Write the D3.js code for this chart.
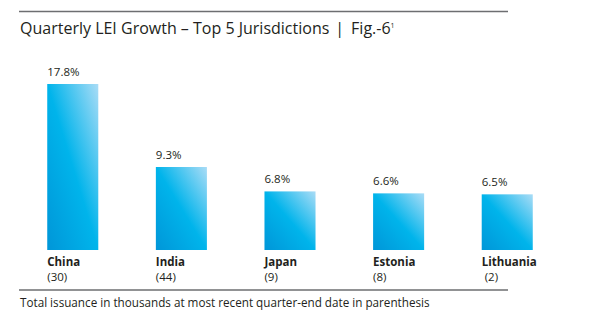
<!DOCTYPE html>
<html>
<head>
<meta charset="utf-8">
<title>Quarterly LEI Growth</title>
<script src="https://cdn.jsdelivr.net/npm/d3@7"></script>
<style>
  body { margin: 0; background: #fff; }
  text { font-family: "Open Sans", "Noto Sans", sans-serif; fill: #231f20; }
</style>
</head>
<body>
<svg id="chart" width="602" height="325"></svg>
<script>
// data
var jurisdictions = ["China", "India", "Japan", "Estonia", "Lithuania"];
var growth = [17.8, 9.3, 6.8, 6.6, 6.5];
var issuance = [30, 44, 9, 8, 2];

var svg = d3.select("#chart");

var defs = svg.append("defs");
var grad = defs.append("linearGradient")
  .attr("id", "barGrad")
  .attr("x1", 0).attr("y1", 1)
  .attr("x2", 1).attr("y2", 0);
grad.append("stop").attr("offset", "0%").attr("stop-color", "#0096d8");
grad.append("stop").attr("offset", "50%").attr("stop-color", "#00b4eb");
grad.append("stop").attr("offset", "100%").attr("stop-color", "#aadcf6");

var x = d3.scaleBand()
  .domain(jurisdictions)
  .range([19, 561])
  .paddingInner(0.53)
  .paddingOuter(0.26);

var y = d3.scaleLinear()
  .domain([0.8, 17.8])
  .range([250, 84]);

// rules
svg.append("line")
  .attr("x1", 19).attr("x2", 508)
  .attr("y1", 11.5).attr("y2", 11.5)
  .attr("stroke", "#6d6e71").attr("stroke-width", 1.5);
svg.append("line")
  .attr("x1", 19).attr("x2", 508)
  .attr("y1", 290).attr("y2", 290)
  .attr("stroke", "#6d6e71").attr("stroke-width", 1.5);

// title
var title = svg.append("text")
  .attr("x", 20).attr("y", 34)
  .style("font-size", "16px");
title.append("tspan").text("Quarterly LEI Growth \u2013 Top 5 Jurisdictions");
title.append("tspan").attr("dx", 6).text("|");
title.append("tspan").attr("dx", 7).text("Fig.-6");
title.append("tspan").attr("dy", -6).style("font-size", "7px").text("1");

var data = jurisdictions.map(function(d, i){
  return {name: d, value: growth[i], count: issuance[i]};
});

var g = svg.append("g");

g.selectAll("rect")
  .data(data)
  .enter()
  .append("rect")
  .attr("x", function(d){ return x(d.name); })
  .attr("y", function(d){ return y(d.value); })
  .attr("width", x.bandwidth())
  .attr("height", function(d){ return 250 - y(d.value); })
  .attr("fill", "url(#barGrad)");

g.selectAll(".val")
  .data(data)
  .enter()
  .append("text")
  .attr("class", "val")
  .attr("x", function(d){ return x(d.name); })
  .attr("y", function(d){ return y(d.value) - 8; })
  .style("font-size", "11.5px")
  .text(function(d){ return d.value.toFixed(1) + "%"; });

g.selectAll(".name")
  .data(data)
  .enter()
  .append("text")
  .attr("class", "name")
  .attr("x", function(d){ return x(d.name); })
  .attr("y", 266)
  .style("font-size", "11.5px")
  .style("font-weight", "bold")
  .text(function(d){ return d.name; });

g.selectAll(".cnt")
  .data(data)
  .enter()
  .append("text")
  .attr("class", "cnt")
  .attr("x", function(d, i){ return x(d.name) + (i == 4 ? 3 : 0); })
  .attr("y", 281)
  .style("font-size", "11.5px")
  .text(function(d){ return "(" + d.count + ")"; });

svg.append("text")
  .attr("x", 20).attr("y", 307)
  .style("font-size", "11.7px")
  .text("Total issuance in thousands at most recent quarter-end date in parenthesis");
</script>
</body>
</html>
